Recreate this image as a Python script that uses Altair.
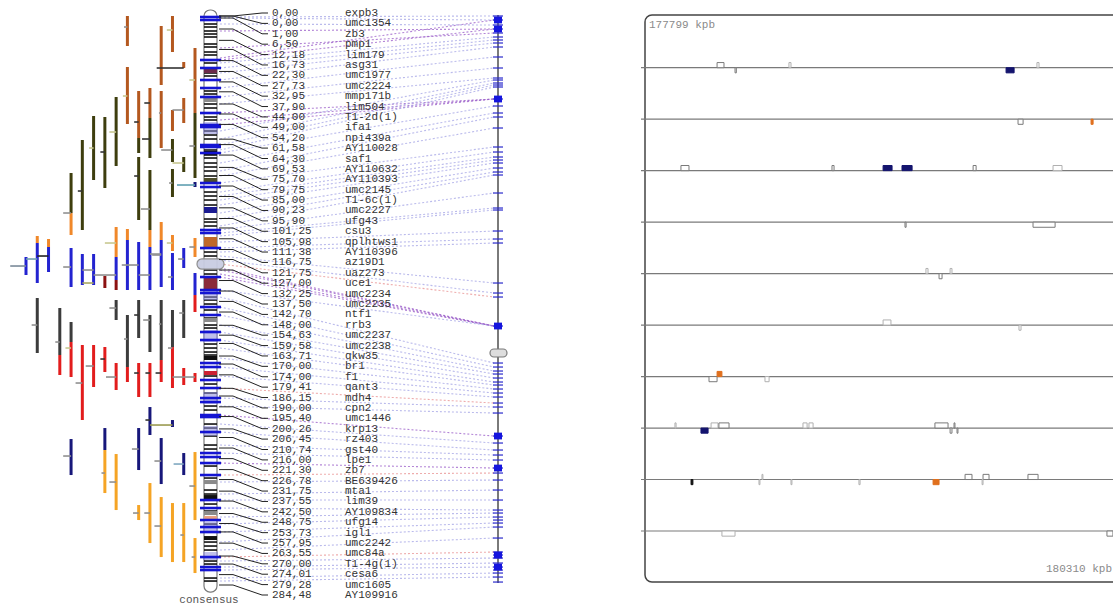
import altair as alt
import pandas as pd

# ---------------- consensus map markers ----------------
marker_cm = [0.00, 0.00, 1.00, 6.50, 12.18, 16.73, 22.30, 27.73, 32.95, 37.90,
             44.00, 49.00, 54.20, 61.58, 64.30, 69.53, 75.70, 79.75, 85.00, 90.23,
             95.90, 101.25, 105.98, 111.38, 116.75, 121.75, 127.00, 132.25, 137.50, 142.70,
             148.00, 154.63, 159.58, 163.71, 170.00, 174.00, 179.41, 186.15, 190.00, 195.40,
             200.26, 206.45, 210.74, 216.00, 221.30, 226.78, 231.75, 237.55, 242.50, 248.75,
             253.73, 257.95, 263.55, 270.00, 274.01, 279.28, 284.48]
marker_names = ["expb3", "umc1354", "zb3", "pmp1", "lim179", "asg31", "umc1977", "umc2224",
                "mmp171b", "lim504", "T1-2d(1)", "ifa1", "npi439a", "AY110028", "saf1",
                "AY110632", "AY110393", "umc2145", "T1-6c(1)", "umc2227", "ufg43", "csu3",
                "qplhtws1", "AY110396", "az19D1", "uaz273", "uce1", "umc2234", "umc2235",
                "ntf1", "rrb3", "umc2237", "umc2238", "qkw35", "br1", "f1", "qant3", "mdh4",
                "cpn2", "umc1446", "krp13", "rz403", "gst40", "lpe1", "zb7", "BE639426",
                "mta1", "lim39", "AY109834", "ufg14", "igl1", "umc2242", "umc84a",
                "T1-4g(1)", "cesa6", "umc1605", "AY109916"]

# ---------------- chromosome ideogram (cM) ----------------
chrom_top, chrom_bottom = -3.0, 288.0
black_bands_cm = [4, 5.5, 7.5, 9, 10.5, 14, 15.5, 18, 19.5, 23.5, 28.5, 30, 37.5, 39, 44, 46,
                  50.5, 52, 57.5, 59.5, 61.5, 67, 69.5, 71, 73.5, 75.5, 77.5, 80, 88, 90, 92,
                  94.5, 101.5, 103, 105, 118, 120, 127, 129, 140.5, 142, 144, 147, 151, 154.5,
                  156, 164, 166, 168, 169.5, 171, 180, 184, 188.5, 195, 197, 204, 206, 210,
                  214.5, 216.5, 225, 231, 237, 239, 240.5, 244, 247.5, 254, 261, 263, 265,
                  267, 272.5, 274, 281, 282.5]
blue_bands_cm = [0.5, 2, 22, 26, 32, 36, 40.5, 48.5, 54.5, 55.5, 64.5, 65.5, 68.5, 83.5, 85.5,
                 107, 108.5, 116, 130.5, 137, 138.5, 145.5, 149.5, 158, 162, 173.5, 175.5,
                 182, 186, 191, 193, 199.5, 200.5, 208, 218.5, 220.5, 223.5, 229.5, 242, 246,
                 252, 255.5, 258, 270.5, 275.5, 277]
block_top = [26, 41, 67.5, 81, 95.5, 110.5, 131, 151, 170, 177.5, 232, 239.5, 247.5, 250, 260]
block_bottom = [28.5, 43, 69.5, 83, 98.5, 115.5, 137, 153, 172, 179.5, 234, 241.5, 249.5, 251.5, 262]
block_color = ["#6b2a4a", "#8a8a8a", "#111111", "#4d4d2a", "#1a1a90", "#c0692a", "#8a2a3a",
               "#8a8a8a", "#111111", "#cc2233", "#8a8a8a", "#111111", "#8a8a8a", "#e8a080",
               "#111111"]
haze_top = [53, 137, 157, 188, 205, 253, 268]
haze_bottom = [59, 142, 163, 194, 210, 258, 272]
centromere_cm = 124.0

# ---------------- second map (right axis), positions on the same vertical axis ----------------
right_extent = [-0.5, 283.5]
right_ticks = [0, 2, 4.5, 6.5, 8.5, 10.5, 12, 13.5, 15.5, 20.5, 26, 31, 32, 33.5, 34.5, 35.5,
               41.5, 45, 48.5, 50.5, 56, 65.5, 68, 70.5, 72, 73.5, 76, 78, 79.5, 88.5, 96, 97,
               107.5, 111.5, 113.5, 133.5, 138.5, 140.5, 155, 173.5, 175.5, 177.5, 179, 181,
               183, 184.5, 186.5, 188.5, 190.5, 193.5, 195.5, 198.5, 210, 213.5, 217, 219.5,
               222, 226, 228.5, 232, 237, 242, 247, 248.5, 250.5, 252, 253.5, 255.5, 261, 268,
               269.5, 271, 273.5, 275.5, 277, 278.5, 280.5, 283]
right_squares = [2, 6.5, 41.5, 155, 210, 226, 269.5, 275.5]
right_centromere = 168.5

link_left = [0.5, 1, 4, 7.5, 16, 21, 22, 23.5, 26, 28.5, 32, 36, 40.5, 44, 48.5, 52, 54.5,
             57.5, 61.5, 64.5, 67, 68.5, 73.5, 77.5, 80, 83.5, 88, 90, 92, 94.5, 98.5, 101.5,
             105, 107, 108.5, 110, 113, 116, 118, 120, 122, 124, 126, 127, 129, 130.5, 137,
             140.5, 145.5, 149.5, 154.5, 158, 162, 166, 171, 175.5, 180, 186, 191, 195, 199.5,
             204, 208, 214.5, 218.5, 223.5, 229.5, 233, 239, 242, 246, 250.5, 254, 258, 263,
             267, 270.5, 272.5, 275.5, 277, 281, 282.5]
link_right = [0, 2, 4.5, 6.5, 8.5, 2, 6.5, 10.5, 12, 13.5, 15.5, 20.5, 26, 31, 41.5, 41.5, 41.5,
              32, 33.5, 34.5, 35.5, 45, 48.5, 50.5, 56, 65.5, 68, 70.5, 72, 73.5, 76, 78,
              79.5, 88.5, 96, 97, 107.5, 111.5, 113.5, 133.5, 138.5, 140.5, 155, 155, 155, 155,
              155, 173.5, 175.5, 177.5, 179, 181, 183, 184.5, 186.5, 188.5, 190.5, 193.5,
              195.5, 198.5, 210, 213.5, 217, 219.5, 222, 226, 228.5, 232, 237, 242, 247,
              248.5, 250.5, 253.5, 255.5, 261, 268, 271, 273.5, 275.5, 278.5, 280.5]
link_kind = ["L", "L", "L", "P", "P", "P", "P", "L", "L", "L", "L", "L", "L", "L", "P", "P", "P",
             "L", "L", "L", "L", "L", "L", "L", "L", "L", "L", "L", "L", "L", "L", "L",
             "L", "L", "L", "L", "L", "L", "L", "L", "L", "R", "P", "P", "P", "P",
             "L", "L", "L", "L", "L", "L", "L", "L", "L", "L", "L", "R",
             "L", "L", "P", "L", "L", "L", "L", "P", "R", "L", "L", "L", "L",
             "L", "L", "L", "L", "L", "R", "L", "L", "L", "L", "L"]

# ---------------- QTL intervals (column, top cM, bottom cM, colour) ----------------
BR, OL, OR, BL, NV = "#b4581f", "#3e3e0e", "#f0882a", "#2323d0", "#17177a"
GR, RD, DR, AM = "#3c3c3c", "#e21d1d", "#8c1212", "#f5a425"
qtl_bars = [
    (0, 120.5, 129.5, BL),
    (1, 110, 113.5, OR), (1, 113.5, 133.5, BL), (1, 141, 168.5, GR),
    (2, 111.5, 115.5, OR), (2, 115.5, 128, BL),
    (3, 146, 169.5, GR), (3, 169.5, 179.5, RD),
    (4, 78.5, 98.5, OL), (4, 98.5, 109.5, OR), (4, 116, 135.5, BL), (4, 153, 163, GR),
    (4, 163, 180.5, RD), (4, 211.5, 229.5, NV),
    (5, 62, 107, OL), (5, 119, 134.5, BL), (5, 164.5, 202, RD),
    (6, 50, 82, OL), (6, 119, 134.5, BL), (6, 164.5, 185.5, RD),
    (7, 50.5, 86, OL), (7, 130, 136, DR), (7, 165.5, 178, RD), (7, 206, 217, NV), (7, 217, 238.5, AM),
    (8, 40.5, 75, OL), (8, 105.5, 120.5, OR), (8, 120.5, 132, BL), (8, 132, 137, DR),
    (8, 142, 152, GR), (8, 173.5, 187, RD), (8, 219, 247, AM),
    (9, 0, 15, BR), (9, 25.5, 54, BR), (9, 106.5, 112, OR), (9, 112, 137, BL),
    (9, 149.5, 175.5, GR), (9, 175.5, 183, RD),
    (10, 37.5, 61, BR), (10, 61, 68.5, OL), (10, 70.5, 102, OL), (10, 113, 137, BL),
    (10, 142, 161, GR), (10, 173.5, 190.5, RD), (10, 206, 227, NV), (10, 244.5, 252, AM),
    (11, 36, 51, BR), (11, 51, 71, OL), (11, 77, 107, OL), (11, 107, 115.5, OR),
    (11, 115.5, 137, BL), (11, 149.5, 168, GR), (11, 173.5, 190.5, RD), (11, 195.5, 209.5, NV),
    (11, 233.5, 263.5, AM),
    (12, 5, 34.5, BR), (12, 37.5, 66, BR), (12, 103, 112, OR), (12, 112, 135.5, BL),
    (12, 142, 172, GR), (12, 172, 183, RD), (12, 211, 234, NV), (12, 240.5, 270.5, AM),
    (13, 0, 18, BR), (13, 47, 57.5, BR), (13, 61.5, 73, OL), (13, 76.5, 90.5, OL),
    (13, 109.5, 117.5, OR), (13, 118.5, 137, BL), (13, 147, 165.5, GR), (13, 165.5, 186, RD),
    (13, 202, 205.5, NV), (13, 243.5, 273, AM),
    (14, 23, 26, BR), (14, 41, 53.5, BR), (14, 70.5, 78, OL), (14, 116, 126, BL),
    (14, 142, 161, GR), (14, 176, 184.5, RD), (14, 218.5, 229.5, NV), (14, 243.5, 273, AM),
    (15, 16, 48.5, BR), (15, 48.5, 81, OL), (15, 83, 85.5, NV), (15, 111, 120.5, OR),
    (15, 128.5, 139.5, BL), (15, 139.5, 148, RD), (15, 178.5, 183, RD), (15, 218, 252, AM),
    (15, 261, 278.5, AM),
]
# QTL peaks and links (from column, to column, cM, colour)
G1, G2, G3, G4 = "#909090", "#333333", "#c8c890", "#6f9fb0"
qtl_peaks = [
    (-1.4, 0, 125, "#7a8a99"), (0, 1, 121.5, G4), (0.5, 1, 154.5, G1), (1, 2, 120, "#222222"),
    (2.6, 3, 163, G1), (3.3, 4, 98.5, G1), (3.3, 4, 125.5, G1), (3.5, 4, 166, G3),
    (3.3, 4, 220, G1), (4.6, 5, 87.5, G2), (5, 6, 127, G1), (5, 6, 133.5, "#a8a860"),
    (4.4, 5, 183.5, G1), (5.6, 6, 66, G3), (5.3, 6, 175, G1), (6.6, 7, 68, G2),
    (6, 8, 129.5, G1), (6.6, 7, 171.5, G2), (6.7, 7, 228.5, G1), (7.4, 8, 58, G3),
    (7, 8, 113.5, G3), (7.4, 8, 146, G1), (7.1, 8, 180.5, G1), (7.4, 8, 233, G1),
    (8.7, 9, 5.5, G1), (8.6, 9, 40, G3), (8.5, 10, 124.5, G1), (8.7, 9, 161.5, G1),
    (9.6, 10, 53, G2), (9.6, 10, 80, G2), (10, 11, 129.5, G1), (9.6, 10, 149.5, G2),
    (9.6, 10, 178.5, G2), (9.4, 10, 216.5, G1), (9.5, 10, 248.5, G1), (10.5, 11, 43.5, G2),
    (10.3, 11, 61.5, G2), (10.2, 11, 96.5, G1), (11, 12, 119, G1), (10.4, 11, 152, G1),
    (10.6, 11, 178.5, G2), (10.6, 11, 202, G2), (11, 13, 204.5, "#9a9a50"), (10.5, 11, 248.5, G1),
    (11.8, 12, 48.5, G1), (11.6, 14, 26, G2), (12, 13, 67, G1), (11.2, 12, 119.5, G1),
    (11.8, 12, 154, G1), (11.5, 12, 178.5, G2), (11.4, 12, 222.5, G1), (11.4, 12, 255, G1),
    (12.5, 13, 7, G3), (13, 14, 47, G1), (13, 14, 73.5, G3), (12.7, 13, 83.5, G1),
    (12.5, 13, 113.5, G3), (12.6, 13, 130.5, G1), (12.6, 13, 166, G1), (13, 15, 180.5, G1),
    (13.5, 14, 121.5, G1), (13.6, 14, 148.5, G1), (13.1, 14, 224, "#7fa8c0"), (13.7, 14, 259.5, G1),
    (14.5, 15, 32, G3), (14.5, 15, 65, G1), (13.4, 15, 84.5, "#5f9fb0"), (14.5, 15, 115.5, G1),
    (14.5, 15, 235, G1), (14.7, 15, 270.5, G1),
]

# ---------------- physical map (kpb) ----------------
kpb_first, kpb_last, n_rows = 177799, 180310, 10
gene_start = [177837.5, 177847.1, 177875.9, 177991.9, 178008.4,
              178249.4, 178288.4,
              178320.4, 178401.1, 178428.4, 178438.5, 178476.5, 178519.2,
              178691.2, 178759.6,
              178953.5, 178960.5, 178966.4,
              179181.7, 179254.3,
              179339.8, 179344.1, 179369.7,
              179572.7, 179586.6, 179592.0, 179596.2, 179641.1, 179644.3, 179711.6, 179719.7,
              179721.8, 179723.4,
              179832.4, 179868.7, 179870.3, 179885.8, 179922.1, 179961.7, 179978.8, 179988.4,
              179987.9, 180012.4,
              180100.0, 180305.7]
gene_end = [177841.2, 177847.8, 177877.0, 177996.2, 178009.5,
            178252.1, 178289.5,
            178324.7, 178402.2, 178433.2, 178443.9, 178478.1, 178524.0,
            178691.8, 178771.4,
            178954.6, 178962.1, 178967.4,
            179185.9, 179255.4,
            179344.1, 179346.7, 179371.9,
            179573.3, 179590.4, 179595.7, 179601.6, 179643.3, 179646.5, 179718.6, 179720.7,
            179722.3, 179723.9,
            179833.4, 179869.2, 179870.8, 179886.3, 179922.7, 179964.9, 179982.5, 179991.6,
            179988.4, 180017.8,
            180107.0, 180308.9]
gene_strand = [1, -1, 1, -1, 1,
               -1, -1,
               1, 1, 1, 1, 1, 1,
               -1, -1,
               1, -1, 1,
               1, -1,
               -1, 1, -1,
               1, -1, 1, 1, 1, 1, 1, -1, 1, -1,
               -1, -1, 1, -1, -1, -1, 1, 1, -1, 1,
               -1, -1]
gene_kind = ["o", "o", "l", "n", "l",
             "o", "r",
             "o", "o", "n", "n", "o", "l",
             "o", "o",
             "l", "o", "l",
             "l", "l",
             "o", "r", "l",
             "l", "n", "l", "o", "l", "l", "o", "o", "o", "o",
             "k", "l", "l", "l", "l", "r", "o", "o", "l", "o",
             "l", "o"]

# ---------------- layout helpers ----------------
def S(domain, rng):
    return alt.Scale(domain=domain, range=rng, nice=False, zero=False)

CM = S([0, 284.48], [16, 585])
COL = S([0, 15], [26, 195])
PX = S([0, 1113], [0, 1113])
ROW = S([0, n_rows - 1], [67.7, 531])
row_span = (kpb_last - kpb_first) / n_rows
KPB = S([0, row_span], [645, 1115])

def y(f, sc=CM):
    return alt.Y(f, type="quantitative", scale=sc, axis=None)

n = len(marker_cm)
px_per_cm = (585 - 16) / 284.48
slot_cm = [(13 + i * (595 - 13) / (n - 1) - 16) / px_per_cm for i in range(n)]
MONO = "Liberation Mono"

layers = []

# dotted links to the second map
kind_col = {"L": "#a4a4e6", "P": "#9a5cc8", "R": "#e89090"}
links = pd.DataFrame({"a": link_left, "b": link_right,
                      "c": [kind_col[k] for k in link_kind]})
layers.append(alt.Chart(links).mark_rule(strokeDash=[2, 2], strokeWidth=1.1, opacity=0.75).encode(
    x=alt.value(220), x2=alt.value(494), y=y("a"), y2="b",
    color=alt.Color("c:N", scale=None)))

# QTL bars
qb = pd.DataFrame(qtl_bars, columns=["k", "t", "b", "c"])
layers.append(alt.Chart(qb).mark_rule(strokeWidth=3).encode(
    x=alt.X("k:Q", scale=COL, axis=None), y=y("t"), y2="b",
    color=alt.Color("c:N", scale=None)))
qp = pd.DataFrame(qtl_peaks, columns=["k0", "k1", "m", "c"])
layers.append(alt.Chart(qp).mark_rule(strokeWidth=1.6).encode(
    x=alt.X("k0:Q", scale=COL, axis=None), x2="k1", y=y("m"),
    color=alt.Color("c:N", scale=None)))

# chromosome body
body = pd.DataFrame({"t": [chrom_top], "b": [chrom_bottom]})
layers.append(alt.Chart(body).mark_rect(fill="white", stroke="#7a7a7a", strokeWidth=1.2,
                                         cornerRadius=6).encode(
    x=alt.value(204), x2=alt.value(217), y=y("t"), y2="b"))
bb = pd.DataFrame({"m": black_bands_cm})
layers.append(alt.Chart(bb).mark_rule(color="#111111", strokeWidth=1.6).encode(
    x=alt.value(204), x2=alt.value(217), y=y("m")))
blk = pd.DataFrame({"t": block_top, "b": block_bottom, "c": block_color})
layers.append(alt.Chart(blk).mark_rect().encode(
    x=alt.value(204), x2=alt.value(217), y=y("t"), y2="b", color=alt.Color("c:N", scale=None)))
hz = pd.DataFrame({"t": haze_top, "b": haze_bottom})
layers.append(alt.Chart(hz).mark_rect(color="#8c8cd8", opacity=0.55).encode(
    x=alt.value(203), x2=alt.value(218), y=y("t"), y2="b"))
blu = pd.DataFrame({"m": blue_bands_cm})
layers.append(alt.Chart(blu).mark_rule(color="#1414d2", strokeWidth=2.6).encode(
    x=alt.value(200), x2=alt.value(221), y=y("m")))
cen = pd.DataFrame({"t": [centromere_cm - 2.6], "b": [centromere_cm + 2.6]})
layers.append(alt.Chart(cen).mark_rect(fill="#c9cde2", stroke="#8a8a8a", strokeWidth=1.2,
                                        cornerRadius=5, opacity=0.95).encode(
    x=alt.value(197), x2=alt.value(224), y=y("t"), y2="b"))

# connectors from the chromosome to the label column
conn_rows = []
for i, (cmv, s) in enumerate(zip(marker_cm, slot_cm)):
    for o, (xx, yy) in enumerate([(219, cmv), (233, cmv), (262, s), (268, s)]):
        conn_rows.append({"m": i, "o": o, "x": xx, "y": yy})
conn = pd.DataFrame(conn_rows)
layers.append(alt.Chart(conn).mark_line(color="#222222", strokeWidth=1).encode(
    x=alt.X("x:Q", scale=PX, axis=None), y=y("y"), detail="m:N", order="o:Q"))

# labels
lab = pd.DataFrame({"s": slot_cm,
                    "pos": [f"{v:.2f}".replace(".", ",") for v in marker_cm],
                    "name": marker_names})
layers.append(alt.Chart(lab).mark_text(align="left", baseline="middle", font=MONO,
                                        fontSize=11, color="#333333").encode(
    x=alt.value(272), y=y("s"), text="pos:N"))
layers.append(alt.Chart(lab).mark_text(align="left", baseline="middle", font=MONO,
                                        fontSize=11, color="#333333").encode(
    x=alt.value(345), y=y("s"), text="name:N"))
layers.append(alt.Chart(pd.DataFrame({"t": ["consensus"]})).mark_text(
    align="center", baseline="middle", font=MONO, fontSize=11, color="#555555").encode(
    x=alt.value(209), y=alt.value(600), text="t:N"))

# second map axis
rax = pd.DataFrame({"t": [right_extent[0]], "b": [right_extent[1]]})
layers.append(alt.Chart(rax).mark_rule(color="#7a7a7a", strokeWidth=2).encode(
    x=alt.value(498), y=y("t"), y2="b"))
rt = pd.DataFrame({"m": right_ticks})
layers.append(alt.Chart(rt).mark_rule(color="#2a2acc", strokeWidth=1.2).encode(
    x=alt.value(493), x2=alt.value(503), y=y("m")))
rs = pd.DataFrame({"t": [v - 1.7 for v in right_squares], "b": [v + 1.7 for v in right_squares]})
layers.append(alt.Chart(rs).mark_rect(color="#1515dd").encode(
    x=alt.value(494), x2=alt.value(502), y=y("t"), y2="b"))
rc = pd.DataFrame({"t": [right_centromere - 2], "b": [right_centromere + 2]})
layers.append(alt.Chart(rc).mark_rect(fill="#dddddd", stroke="#7a7a7a", strokeWidth=1.2,
                                       cornerRadius=4).encode(
    x=alt.value(490), x2=alt.value(507), y=y("t"), y2="b"))

# physical map panel
layers.append(alt.Chart(pd.DataFrame({"a": [0]})).mark_rect(
    fill="white", fillOpacity=0, stroke="#444444", strokeWidth=1.5, cornerRadius=7).encode(
    x=alt.value(645), x2=alt.value(1135), y=alt.value(15), y2=alt.value(582)))
rows = pd.DataFrame({"r": list(range(n_rows))})
layers.append(alt.Chart(rows).mark_rule(color="#7a7a7a", strokeWidth=1.2).encode(
    x=alt.value(641), x2=alt.value(1113), y=y("r", ROW)))

kind_fill = {"o": "white", "l": "white", "n": "#14146e", "r": "#e0701e", "k": "#111111"}
kind_stroke = {"o": "#7a7a7a", "l": "#b0b0b0", "n": "#14146e", "r": "#e0701e", "k": "#111111"}
g_rows = []
for s0, s1, st, kd in zip(gene_start, gene_end, gene_strand, gene_kind):
    r = int((s0 - kpb_first) // row_span)
    base = kpb_first + r * row_span
    g_rows.append({"o0": s0 - base, "o1": s1 - base, "r": r, "r2": r - st * 0.1,
                   "f": kind_fill[kd], "s": kind_stroke[kd]})
genes = pd.DataFrame(g_rows)
layers.append(alt.Chart(genes).mark_rect(strokeWidth=1).encode(
    x=alt.X("o0:Q", scale=KPB, axis=None), x2="o1", y=y("r", ROW), y2="r2",
    fill=alt.Fill("f:N", scale=None), stroke=alt.Stroke("s:N", scale=None)))

layers.append(alt.Chart(pd.DataFrame({"t": [f"{kpb_first} kpb"]})).mark_text(
    align="left", baseline="middle", font=MONO, fontSize=11, color="#8a8a8a").encode(
    x=alt.value(649), y=alt.value(25), text="t:N"))
layers.append(alt.Chart(pd.DataFrame({"t": [f"{kpb_last} kpb"]})).mark_text(
    align="right", baseline="middle", font=MONO, fontSize=11, color="#8a8a8a").encode(
    x=alt.value(1112), y=alt.value(569), text="t:N"))

chart = alt.layer(*layers).resolve_scale(x="independent", y="independent").properties(
    width=1113, height=606, padding=0, autosize=alt.AutoSizeParams(type="none")
).configure_view(strokeWidth=0)

chart.save("out.html", embed_options={"renderer": "svg", "actions": False})
